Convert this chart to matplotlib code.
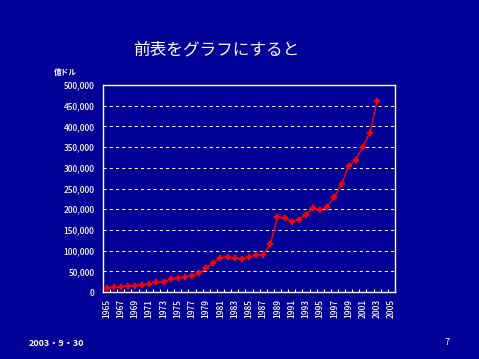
import matplotlib
matplotlib.use("Agg")
import matplotlib.pyplot as plt
import numpy as np

plt.rcParams['font.family'] = ['Noto Sans CJK JP', 'DejaVu Sans']

# data (億ドル)
years = list(range(1965, 2006))
values = [10000, 11000, 13000, 14500, 15500, 18000, 20000, 23000, 25000, 31000,
          33000, 36000, 39000, 45000, 58000, 70000, 83000, 84000, 82000, 79000,
          84000, 89000, 90000, 116000, 180000, 179000, 170000, 175000, 187000, 203000,
          198000, 206000, 230000, 260000, 304000, 319000, 351000, 385000, 462000]
yticks = [0, 50000, 100000, 150000, 200000, 250000, 300000, 350000, 400000, 450000, 500000]
ytick_labels = ["0", "50,000", "100,000", "150,000", "200,000", "250,000",
                "300,000", "350,000", "400,000", "450,000", "500,000"]
xtick_years = years[::2]

bg = '#000096'
fig = plt.figure(figsize=(4.79, 3.59), dpi=100, facecolor=bg)
ax = fig.add_axes([0.215, 0.1866, 0.6096, 0.5766], facecolor=bg)

x = np.arange(len(values))
ax.plot(x, values, color='red', lw=1.0, marker='P', ms=4,
        mfc='red', mec='red', mew=0.3, zorder=3)

ax.set_xlim(-0.5, len(years) - 0.5)
ax.set_ylim(0, 500000)

# gridlines
for v in yticks[1:-1]:
    ax.axhline(v, color='white', lw=0.75, ls=(0, (3, 3)), zorder=1)

for s in ax.spines.values():
    s.set_color('white')
    s.set_linewidth(1.0)

ax.set_yticks(yticks)
ax.set_yticklabels(ytick_labels)
ax.tick_params(axis='y', length=0, colors='white', labelsize=6, pad=6)

# category ticks on boundaries, labels every other year
ax.set_xticks(np.arange(len(years) + 1) - 0.5, minor=True)
ax.set_xticks(np.arange(0, len(years), 2))
ax.set_xticklabels([str(y) for y in xtick_years], rotation=90)
ax.tick_params(axis='x', which='major', length=0, colors='white', labelsize=6, pad=5)
ax.tick_params(axis='x', which='minor', length=2.5, direction='in', color='white', width=0.8)
for lab in ax.get_xticklabels() + ax.get_yticklabels():
    lab.set_fontweight('medium')

fig.text(0.451, 0.861, "前表をグラフにすると", color='white', fontsize=12,
         ha='center', va='center')
fig.text(0.112, 0.797, "億ドル", color='white', fontsize=5.5, ha='left',
         va='center', fontweight='bold')
fig.text(0.06, 0.042, "2003・9・30", color='white', fontsize=6.5, ha='left',
         va='center', fontweight='bold')
fig.text(0.933, 0.045, "7", color='white', fontsize=6.5, ha='center', va='center')

fig.savefig("out.png", dpi=100, facecolor=bg)
